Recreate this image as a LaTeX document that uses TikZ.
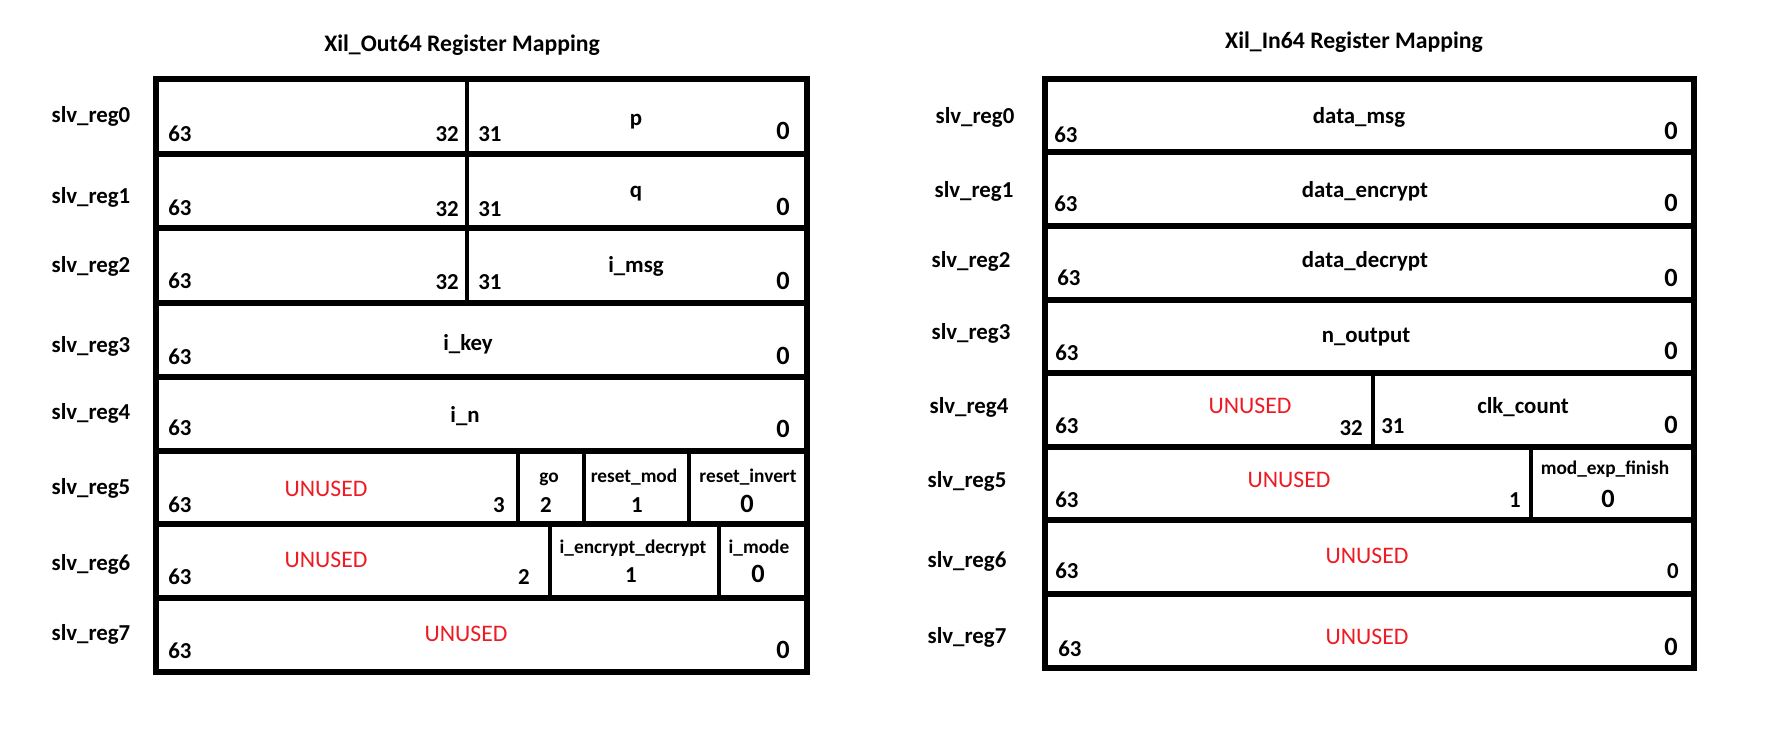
\documentclass[tikz,border=0pt]{standalone}
\usepackage{fontspec}
\setmainfont{Carlito}
\usepackage{xcolor}
\usepackage{tikz}
\definecolor{unbenutzt}{RGB}{237,28,36}
\tikzset{
  Rahmen/.style={line width=3.2pt}, % Zeilen und Aussenrand
  Teiler/.style={line width=2.6pt}, % Bitgrenzen innerhalb einer Zeile
  Titel/.style={font=\bfseries\fontsize{13.5}{16}\selectfont, anchor=base, inner sep=0pt},
  Reg/.style={font=\bfseries\fontsize{13}{15}\selectfont, anchor=base, inner sep=0pt},
  Bit/.style={font=\bfseries\fontsize{13}{15}\selectfont, inner sep=0pt},
  BitL/.style={Bit, anchor=base west},
  BitR/.style={Bit, anchor=base east},
  Null/.style={font=\bfseries\fontsize{15}{17}\selectfont, inner sep=0pt},
  Feld/.style={font=\bfseries\fontsize{13}{15}\selectfont, anchor=base, inner sep=0pt},
  KFeld/.style={Feld, font=\bfseries\fontsize{11}{13}\selectfont},
  Frei/.style={Feld, text=unbenutzt, font=\fontsize{13.5}{15}\selectfont}
}
\begin{document}
\begin{tikzpicture}[x=0.02cm, y=-0.02cm]
\path[use as bounding box, fill=white] (0,0) rectangle (1772,740);

%Ueberschriften
\node[Titel] (titelOut) at (462,52) {Xil\_Out64 Register Mapping};
\node[Titel] (titelIn) at (1354,49) {Xil\_In64 Register Mapping};

%Registernamen
\foreach \n/\y in {0/123,1/203,2/272,3/352,4/419,5/494,6/570,7/640}
  \node[Reg] (outreg\n) at (91,\y) {slv\_reg\n};
\foreach \n/\x/\y in {0/975/124,1/974/197,2/971/267,3/971/339,4/969/413,5/967/487,6/967/567,7/967/643}
  \node[Reg] (inreg\n) at (\x,\y) {slv\_reg\n};

%Xil_Out64: Rahmen
\draw[Rahmen] (156,79) rectangle (807,672);
\foreach \y in {154,228,303,377,451,524,598}
  \draw[Rahmen] (156,\y) -- (807,\y);
\draw[Teiler] (467,79) -- (467,303);
\foreach \x in {518,584,689} \draw[Teiler] (\x,451) -- (\x,524);
\foreach \x in {550,719} \draw[Teiler] (\x,524) -- (\x,598);

%Xil_Out64: Bitnummern
\foreach \r/\y in {0/142,1/215,2/288,3/364,4/435,5/512,6/584,7/658}
  \node[BitL] (o\r-63) at (168,\y) {63};
\foreach \r/\y in {0/140,1/215,2/289,3/364,4/437,7/658}
  \node[Null, anchor=base east] (o\r-0) at (790,\y) {0};
\foreach \r/\y in {0/142,1/216,2/289}{%
  \node[BitR] (o\r-32) at (459,\y) {32};
  \node[BitL] (o\r-31) at (478,\y) {31};
}

%Xil_Out64: Felder
\node[Feld] (o0-p) at (636,126) {p};
\node[Feld] (o1-q) at (636,197) {q};
\node[Feld] (o2-msg) at (636,272) {i\_msg};
\node[Feld] (o3-key) at (468,350) {i\_key};
\node[Feld] (o4-n) at (465,422) {i\_n};

\node[Frei] (o5-frei) at (326,496) {UNUSED};
\node[BitR] (o5-3) at (505,512) {3};
\node[KFeld] (o5-go) at (549,482) {go};
\node[Bit, anchor=base] (o5-2) at (546,512) {2};
\node[KFeld] (o5-rm) at (634,482) {reset\_mod};
\node[Bit, anchor=base] (o5-1) at (637,512) {1};
\node[KFeld] (o5-ri) at (748,482) {reset\_invert};
\node[Null, anchor=base] (o5-0) at (747,512) {0};

\node[Frei] (o6-frei) at (326,567) {UNUSED};
\node[BitR] (o6-2) at (530,584) {2};
\node[KFeld] (o6-ed) at (633,553) {i\_encrypt\_decrypt};
\node[Bit, anchor=base] (o6-1) at (631,582) {1};
\node[KFeld] (o6-mode) at (759,553) {i\_mode};
\node[Null, anchor=base] (o6-0) at (758,582) {0};

\node[Frei] (o7-frei) at (466,641) {UNUSED};

%Xil_In64: Rahmen
\draw[Rahmen] (1045,79) rectangle (1694,668);
\foreach \y in {152,226,300,373,447,520,594}
  \draw[Rahmen] (1045,\y) -- (1694,\y);
\draw[Teiler] (1373,373) -- (1373,447);
\draw[Teiler] (1531,447) -- (1531,520);

%Xil_In64: Bitnummern
\foreach \r/\x/\y in {0/1054/143,1/1054/212,2/1057/285,3/1055/360,4/1055/433,5/1055/507,6/1055/578,7/1058/656}
  \node[BitL] (i\r-63) at (\x,\y) {63};
\foreach \r/\y in {0/139,1/212,2/286,3/359,4/433,7/655}
  \node[Null, anchor=base east] (i\r-0) at (1678,\y) {0};
\node[BitR] (i6-0) at (1679,578) {0};

%Xil_In64: Felder
\node[Feld] (i0-msg) at (1359,124) {data\_msg};
\node[Feld] (i1-enc) at (1365,197) {data\_encrypt};
\node[Feld] (i2-dec) at (1365,267) {data\_decrypt};
\node[Feld] (i3-out) at (1366,342) {n\_output};

\node[Frei] (i4-frei) at (1250,413) {UNUSED};
\node[BitR] (i4-32) at (1363,435) {32};
\node[BitL] (i4-31) at (1381,433) {31};
\node[Feld] (i4-clk) at (1523,413) {clk\_count};

\node[Frei] (i5-frei) at (1289,487) {UNUSED};
\node[BitR] (i5-1) at (1521,507) {1};
\node[KFeld] (i5-fin) at (1605,474) {mod\_exp\_finish};
\node[Null, anchor=base] (i5-0) at (1608,507) {0};

\node[Frei] (i6-frei) at (1367,563) {UNUSED};
\node[Frei] (i7-frei) at (1367,644) {UNUSED};
\end{tikzpicture}
\end{document}
